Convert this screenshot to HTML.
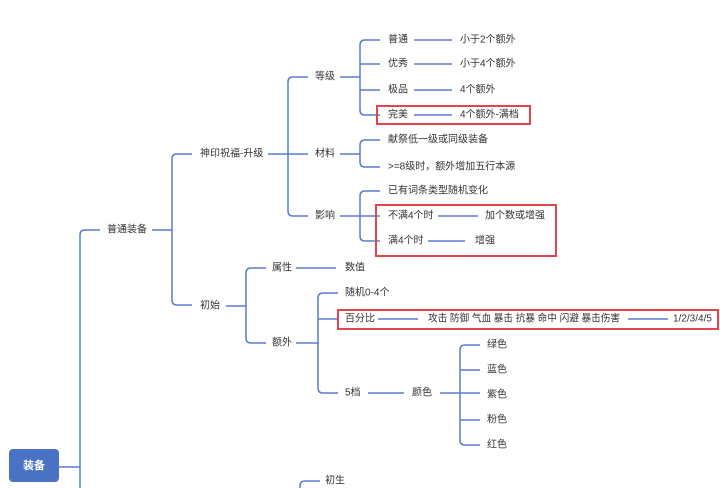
<!DOCTYPE html>
<html><head><meta charset="utf-8"><style>
html,body{margin:0;padding:0;background:#fff;}
svg{display:block;}
text{font-family:"Liberation Sans","Noto Sans CJK SC",sans-serif;font-size:10px;fill:#333;dominant-baseline:central;}
</style></head><body>
<svg width="720" height="488" viewBox="0 0 720 488" xmlns="http://www.w3.org/2000/svg">
<g fill="none" stroke="#5a7ccf" stroke-width="1.5">
<path d="M59 467 H80 M80 490 V235 Q80 230 85 230 H100"/>
<path d="M152 230 H172 M192 154 H177 Q172 154 172 159 V300 Q172 305 177 305 H192"/>
<path d="M268 154 H308 M308 77 H293 Q288 77 288 82 V211 Q288 216 293 216 H308"/>
<path d="M340 77 H360 M380 40 H365 Q360 40 360 45 V110 Q360 115 365 115 H380 M360 64 H380 M360 90 H380"/>
<path d="M414 40 H452 M414 64 H452 M414 90 H452 M414 115 H452"/>
<path d="M340 154 H360 M380 140 H365 Q360 140 360 145 V162 Q360 167 365 167 H380"/>
<path d="M340 216 H380 M380 191 H365 Q360 191 360 196 V236 Q360 241 365 241 H380"/>
<path d="M438 216 H478 M428 241 H465"/>
<path d="M226 306 H246 M266 268 H251 Q246 268 246 273 V338 Q246 343 251 343 H266 M296 268 H336"/>
<path d="M296 343 H318 M338 293 H323 Q318 293 318 298 V388 Q318 393 323 393 H338 M318 319 H338"/>
<path d="M378 319 H418 M628 319 H668"/>
<path d="M368 393 H404 M440 393 H480 M480 345 H465 Q460 345 460 350 V440 Q460 445 465 445 H480 M460 370 H480 M460 420 H480"/>
<path d="M320 481 H305 Q300 481 300 486 V490"/>
</g>
<g fill="none" stroke="#e0474c" stroke-width="2">
<rect x="377" y="106" width="153" height="18"/>
<rect x="376" y="205" width="180" height="51"/>
<rect x="338" y="310" width="380" height="19"/>
</g>
<rect x="9" y="449" width="50" height="33" rx="4" fill="#4a72c4"/>
<text x="34" y="466" text-anchor="middle" style="fill:#fff;font-size:11px;font-weight:bold">装备</text>
<text x="107" y="230">普通装备</text>
<text x="200" y="154">神印祝福-升级</text>
<text x="200" y="306">初始</text>
<text x="315" y="77">等级</text>
<text x="315" y="154">材料</text>
<text x="315" y="216">影响</text>
<text x="388" y="40">普通</text>
<text x="388" y="64">优秀</text>
<text x="388" y="90">极品</text>
<text x="388" y="115">完美</text>
<text x="460" y="40">小于2个额外</text>
<text x="460" y="64">小于4个额外</text>
<text x="460" y="90">4个额外</text>
<text x="460" y="115">4个额外-满档</text>
<text x="388" y="140">献祭低一级或同级装备</text>
<text x="388" y="167">&gt;=8级时，额外增加五行本源</text>
<text x="388" y="191">已有词条类型随机变化</text>
<text x="388" y="216">不满4个时</text>
<text x="485" y="216">加个数或增强</text>
<text x="388" y="241">满4个时</text>
<text x="475" y="241">增强</text>
<text x="272" y="268">属性</text>
<text x="345" y="268">数值</text>
<text x="272" y="343">额外</text>
<text x="345" y="293">随机0-4个</text>
<text x="345" y="319">百分比</text>
<text x="428" y="319" textLength="192" lengthAdjust="spacingAndGlyphs">攻击 防御 气血 暴击 抗暴 命中 闪避 暴击伤害</text>
<text x="673" y="319">1/2/3/4/5</text>
<text x="345" y="393">5档</text>
<text x="412" y="393">颜色</text>
<text x="487" y="345">绿色</text>
<text x="487" y="370">蓝色</text>
<text x="487" y="395">紫色</text>
<text x="487" y="420">粉色</text>
<text x="487" y="445">红色</text>
<text x="325" y="481">初生</text>
</svg>
</body></html>
